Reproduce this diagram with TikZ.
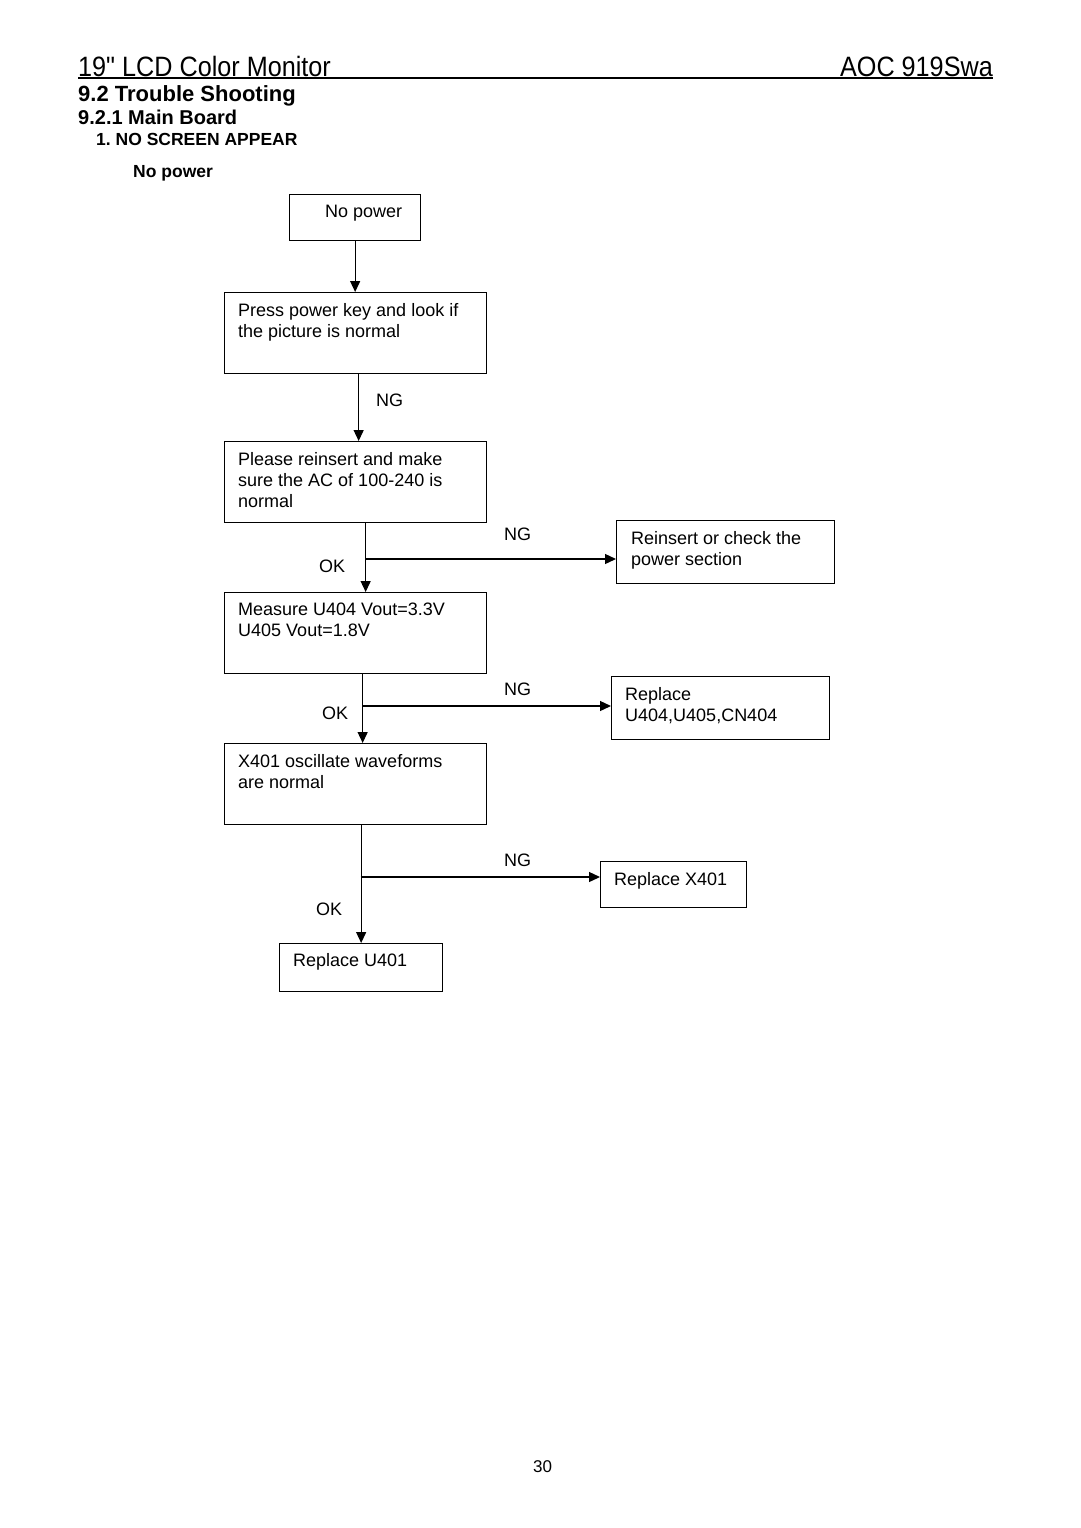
\documentclass[tikz,border=0pt]{standalone}
\usepackage{graphicx}
\usepackage{fontspec}
\setmainfont{Liberation Sans}
\newfontfamily\hdfont{Liberation Sans}
\usetikzlibrary{arrows.meta}
\frenchspacing
\begin{document}
\begin{tikzpicture}[x=1pt,y=-1pt,
  box/.style={draw, line width=1.3pt, rectangle, inner sep=0pt, anchor=north west},
  txt/.style={anchor=north west, inner sep=0pt, align=left, font=\fontsize{18}{21}\selectfont},
  lbl/.style={anchor=north west, inner sep=0pt, font=\fontsize{18}{21}\selectfont},
  arr/.style={line width=1.3pt, -{Triangle[length=11pt,width=10pt]}},
  hd/.style={inner sep=0pt, font=\hdfont\fontsize{28}{30}\selectfont},
  sec/.style={anchor=base west, inner sep=0pt}]
\useasboundingbox[fill=white] (0,0) rectangle (1080,1528);

% header
\node[hd, anchor=base west] (title) at (78,76) {\scalebox{0.9}[1]{19" LCD Color Monitor}};
\node[hd, anchor=base east] (model) at (993,76) {\scalebox{0.9}[1]{AOC 919Swa}};
\coordinate (rl) at (78,78);
\coordinate (rr) at (993,78);
\draw[line width=1.5pt] (rl) -- (rr);
\node[sec, font=\bfseries\fontsize{22}{24}\selectfont] (s1) at (78,101) {9.2 Trouble Shooting};
\node[sec, font=\bfseries\fontsize{20}{22}\selectfont] (s2) at (78,124) {9.2.1 Main Board};
\node[sec, font=\bfseries\fontsize{17.5}{20}\selectfont] (s3) at (96,145) {1. NO SCREEN APPEAR};
\node[sec, font=\bfseries\fontsize{17.5}{20}\selectfont] (s4) at (133,177) {No power};

% boxes
\node[box, minimum width=131pt, minimum height=46pt] (b1) at (289,194) {};
\node[box, minimum width=262pt, minimum height=81pt] (b2) at (224,292) {};
\node[box, minimum width=262pt, minimum height=81pt] (b3) at (224,441) {};
\node[box, minimum width=218pt, minimum height=63pt] (b4) at (616,520) {};
\node[box, minimum width=262pt, minimum height=81pt] (b5) at (224,592) {};
\node[box, minimum width=218pt, minimum height=63pt] (b6) at (611,676) {};
\node[box, minimum width=262pt, minimum height=81pt] (b7) at (224,743) {};
\node[box, minimum width=146pt, minimum height=46pt] (b8) at (600,861) {};
\node[box, minimum width=163pt, minimum height=48pt] (b9) at (279,943) {};

% box texts
\node[txt] (t1) at (325,205) {No power};
\node[txt] (t2) at (238,303) {Press power key and look if\\the picture is normal};
\node[txt] (t3) at (238,452) {Please reinsert and make\\sure the AC of 100-240 is\\normal};
\node[txt] (t4) at (631,531) {Reinsert or check the\\power section};
\node[txt] (t5) at (238,603) {Measure U404 Vout=3.3V\\U405 Vout=1.8V};
\node[txt] (t6) at (625,687) {Replace\\U404,U405,CN404};
\node[txt] (t7) at (238,754) {X401 oscillate waveforms\\are normal};
\node[txt] (t8) at (614,872) {Replace X401};
\node[txt] (t9) at (293,953) {Replace U401};

% connectors
\draw[arr] (b1.south) -- (b1.south |- b2.north);
\draw[arr] ([xshift=3pt]b2.south) -- ([xshift=3pt]b3.north);
\draw[arr] ([xshift=10pt]b3.south) -- ([xshift=10pt]b5.north);
\coordinate (j1) at (365,559);
\draw[arr] (j1) -- (j1 -| b4.west);
\draw[arr] ([xshift=7pt]b5.south) -- ([xshift=7pt]b7.north);
\coordinate (j2) at (362,706);
\draw[arr] (j2) -- (j2 -| b6.west);
\draw[arr] (b9.north |- b7.south) -- (b9.north);
\coordinate (j3) at (360.5,877);
\draw[arr] (j3) -- (j3 -| b8.west);

% labels
\node[lbl] (l1) at (376,394) {NG};
\node[lbl] (l2) at (319,560) {OK};
\node[lbl] (l3) at (504,528) {NG};
\node[lbl] (l4) at (504,683) {NG};
\node[lbl] (l5) at (322,707) {OK};
\node[lbl] (l6) at (504,854) {NG};
\node[lbl] (l7) at (316,903) {OK};

% page number
\node[sec, font=\fontsize{17}{20}\selectfont] (pg) at (533,1472) {30};
\end{tikzpicture}
\end{document}
